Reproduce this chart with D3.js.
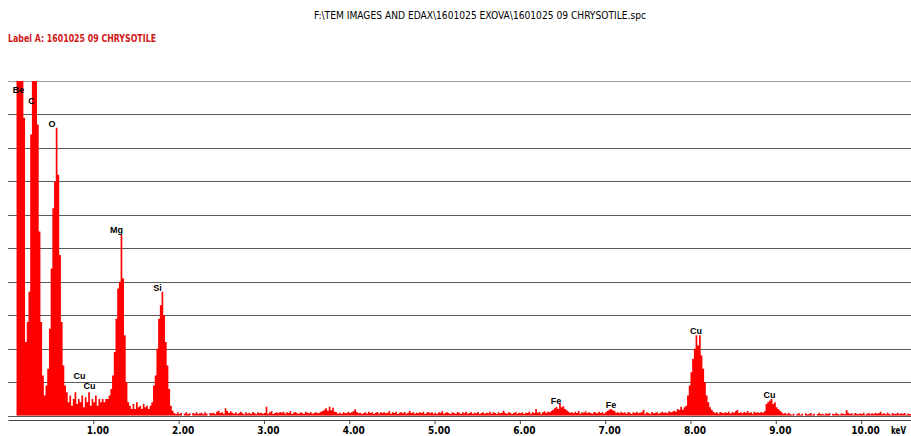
<!DOCTYPE html>
<html>
<head>
<meta charset="utf-8">
<script src="https://cdn.jsdelivr.net/npm/d3@7/dist/d3.min.js"></script>
<style>
  html, body { margin: 0; padding: 0; background: #fff; }
  svg { display: block; }
</style>
</head>
<body>
<div id="chart"></div>
<script>
// spectrum calibration, like the .spc header: channel i sits at startKeV + i * keVPerChannel
var startKeV = 0;
var keVPerChannel = 0.02;

// counts per channel, in % of full scale (0.2 keV per row)
var counts = [
    0, 0, 0, 0, 0, 160, 160, 160, 160, 89,
    22, 28, 37, 84, 160, 160, 160, 87, 55, 28,
    12, 6, 9, 14, 26, 44, 62, 70, 86, 72,
    48, 28, 15, 9, 7, 4, 6, 3, 5, 7,
    3.5, 5, 4, 6, 2.5, 5.5, 4, 7, 3, 5,
    4, 6, 3, 5, 4, 5, 4, 5, 5, 6,
    8, 12, 19, 29, 38, 40, 54, 41, 24, 10,
    4, 3, 2, 3.5, 2, 4, 2.5, 3, 2, 3.5,
    2.5, 3, 2, 3, 4, 9, 12, 20, 29, 33,
    37, 30, 22, 15, 8, 3, 1.5, 0.8, 0.5, 1,
    0.5, 0.8, 0, 0.6, 1, 0.5, 0.7, 0, 0.8, 0.6,
    1, 0.5, 0.7, 0.9, 0.4, 1, 0.6, 0, 0.8, 0.7,
    0.9, 0.5, 1.2, 1.5, 0.8, 1, 0.6, 2.2, 1.4, 0.8,
    1.3, 0.9, 0.6, 1, 0.5, 0.8, 1.2, 0.7, 0.4, 1,
    0.6, 0.9, 0.5, 1.1, 0.8, 0.4, 1, 0.7, 0.9, 0.6,
    0.8, 2.7, 0.6, 1, 1.3, 0.5, 0.8, 1, 0.7, 1.1,
    0.9, 1.2, 0.6, 1, 0.8, 1.3, 0.5, 0.9, 1.1, 0.7,
    0.6, 1, 0.8, 0.5, 1.2, 0.9, 0.7, 1, 0.6, 0.8,
    1, 0.7, 0.9, 1.2, 1.4, 1.8, 2.2, 1.5, 2.7, 1.6,
    2.4, 1.2, 1, 0.6, 0.9, 0.5, 1, 0.8, 0.7, 1.2,
    0.8, 1, 1.3, 1.9, 1.1, 0.7, 0.9, 0.5, 0.8, 1,
    0.6, 1.2, 0.8, 1, 0.5, 0.9, 1.1, 0.6, 1, 0.8,
    1, 0.7, 0.9, 1.3, 0.6, 1, 0.8, 1.2, 0.5, 0.9,
    1, 0.7, 1.1, 0.6, 0.9, 1.4, 0.8, 1, 0.6, 0.9,
    0.7, 1, 0.8, 1.2, 0.5, 0.9, 1.1, 0.7, 1, 0.6,
    0.9, 0.5, 1, 0.8, 1.3, 0.6, 0.9, 1, 0.7, 0.5,
    1, 0.8, 0.6, 1.1, 0.9, 0.5, 1, 0.7, 1.2, 0.6,
    0.8, 1, 0.6, 0.9, 0.7, 1.1, 0.5, 0.8, 1, 0.6,
    0.9, 0.7, 1.2, 0.6, 1, 0.8, 0.5, 1, 0.7, 0.9,
    1.5, 0.8, 0.6, 1, 0.9, 0.5, 0.8, 1.1, 0.6, 0.9,
    0.7, 1, 0.5, 0.9, 0.8, 1.2, 0.6, 1, 0.8, 2,
    0.9, 1.1, 0.6, 1, 1.3, 0.8, 1.2, 1, 1.4, 1.8,
    2.2, 2.6, 2, 3.7, 2.5, 2.8, 2, 1.6, 1.2, 0.9,
    1, 0.7, 1.2, 0.8, 1.4, 0.6, 1, 0.9, 1.3, 0.7,
    1, 0.8, 0.6, 1.1, 0.9, 0.7, 1.2, 0.8, 1, 0.6,
    1.1, 1.5, 1.8, 2, 1.6, 1.4, 0.9, 1, 0.7, 1.2,
    0.8, 1, 0.6, 1.1, 0.9, 0.5, 1, 0.8, 1.2, 0.7,
    0.9, 1, 1.7, 0.6, 1, 0.8, 0.5, 1.1, 0.7, 0.9,
    1, 0.6, 0.9, 1.2, 0.8, 1, 0.7, 1.3, 1, 1.2,
    1.5, 1.2, 2, 1.7, 2.7, 1.8, 2.5, 3, 6, 9,
    13, 17, 20, 24, 21, 24, 18, 14, 10, 6,
    4, 2.5, 1.8, 1.2, 0.8, 1, 0.6, 1.1, 0.9, 0.7,
    1, 0.8, 1.2, 0.6, 1, 0.9, 1.3, 1.7, 0.8, 1,
    0.7, 1.1, 0.9, 1.4, 0.8, 1, 0.6, 1.2, 0.9, 1,
    0.8, 1.1, 0.9, 1.3, 3.5, 4, 4.5, 5, 3.5, 4,
    2.5, 2, 1.5, 1, 0.6, 0.8, 0.4, 0.9, 0.5, 0.3,
    0.6, 0, 0.5, 0.8, 0.3, 0.6, 0, 0.7, 0.4, 0.5,
    0.8, 0.3, 0.6, 0, 0.5, 0.9, 0.4, 0.6, 0.3, 0.7,
    0.5, 0.8, 0, 0.6, 0.4, 0.9, 0.5, 0.3, 0.7, 0.6,
    0.4, 1.7, 0.9, 0.5, 0.7, 0.3, 0.8, 0.6, 0.4, 0.7,
    0.5, 0.9, 0.3, 0.6, 0.8, 0.4, 0.7, 0.5, 0.9, 0.6,
    0.8, 1.2, 0.5, 0.7, 0.4, 0.9, 0.6, 0.3, 0.8, 0.5,
    0.6, 0.9, 0.4, 0.7, 0.5, 0.8, 0.3, 0.6, 0.5, 0.4
];

// element markers: name, energy (keV) and the height the label sits at (%)
var peakNames  = ["Be", "C", "O", "Cu", "Cu", "Mg", "Si", "Fe", "Fe", "Cu", "Cu"];
var peakKeV    = [0.123, 0.275, 0.516, 0.838, 0.955, 1.272, 1.753, 6.424, 7.069, 8.066, 8.927];
var peakLabelY = [96.4, 93.1, 86.3, 11.0, 8.0, 54.6, 37.3, 3.5, 2.3, 24.4, 5.3];

var tickKeV   = [1, 2, 3, 4, 5, 6, 7, 8, 9, 10];
var gridLines = [0, 10, 20, 30, 40, 50, 60, 70, 80, 90, 100];

var titleText = "F:\\TEM IMAGES AND EDAX\\1601025 EXOVA\\1601025 09 CHRYSOTILE.spc";
var labelText = "Label A: 1601025 09 CHRYSOTILE";
var unitText  = "keV";

var width = 911, height = 436;
var narrow = "'Liberation Sans Narrow', 'Arial Narrow', 'DejaVu Sans Condensed', sans-serif";

var svg = d3.select("#chart").append("svg")
    .attr("width", width)
    .attr("height", height);

var x = d3.scaleLinear().domain([0, 10.585]).range([8, 911]);
var y = d3.scaleLinear().domain([0, 100]).range([415.7, 81]);

// header texts
svg.append("text")
    .attr("x", 314).attr("y", 19)
    .attr("textLength", 332).attr("lengthAdjust", "spacingAndGlyphs")
    .style("font-family", narrow).style("font-size", "10px")
    .style("font-weight", "500")
    .attr("fill", "#000")
    .text(titleText);

svg.append("text")
    .attr("x", 8).attr("y", 42)
    .attr("textLength", 148).attr("lengthAdjust", "spacingAndGlyphs")
    .style("font-family", narrow).style("font-size", "10px")
    .style("font-weight", "bold")
    .attr("fill", "#d01818")
    .text(labelText);

// horizontal grid
svg.append("g").selectAll("line")
    .data(gridLines)
    .enter().append("line")
    .attr("x1", x(0)).attr("x2", width)
    .attr("y1", function(d) { return Math.round(y(d)) + 0.5; })
    .attr("y2", function(d) { return Math.round(y(d)) + 0.5; })
    .attr("stroke", function(d) { return d == 100 ? "#a0a0a0" : "#5a5a5a"; })
    .attr("stroke-width", 1);

// spectrum
svg.append("clipPath").attr("id", "plotclip")
    .append("rect")
    .attr("x", x(0)).attr("y", y(100))
    .attr("width", width - x(0)).attr("height", y(0) - y(100));

var spec = counts.map(function(c, i) {
    return {e: startKeV + i * keVPerChannel, c: c};
});
spec.push({e: startKeV + counts.length * keVPerChannel, c: 0});

var area = d3.area()
    .curve(d3.curveStepAfter)
    .x(function(d) { return x(d.e); })
    .y0(y(0))
    .y1(function(d) { return y(d.c); });

svg.append("path")
    .datum(spec)
    .attr("clip-path", "url(#plotclip)")
    .attr("fill", "#ff0000")
    .attr("d", area);

// bottom axis
var xAxis = d3.axisBottom(x)
    .tickValues(tickKeV)
    .tickFormat(d3.format(".2f"))
    .tickSizeInner(4)
    .tickSizeOuter(0);

var axisG = svg.append("g")
    .attr("transform", "translate(0,420)")
    .call(xAxis);

axisG.select(".domain").attr("stroke", "#444");
axisG.selectAll(".tick line").attr("stroke", "#444");
axisG.selectAll(".tick text")
    .attr("dx", 4)
    .attr("y", 7)
    .style("font-family", narrow)
    .style("font-size", "10px")
    .style("font-weight", "bold")
    .attr("fill", "#000");

// unit label kept just inside the right edge
svg.append("text")
    .attr("x", 891).attr("y", 434)
    .attr("textLength", 15).attr("lengthAdjust", "spacingAndGlyphs")
    .style("font-family", narrow).style("font-size", "10px").style("font-weight", "bold")
    .attr("fill", "#000")
    .text(unitText);

// element labels
svg.append("g").selectAll("text")
    .data(peakNames)
    .enter().append("text")
    .attr("x", function(d, i) { return x(peakKeV[i]); })
    .attr("y", function(d, i) { return y(peakLabelY[i]); })
    .attr("text-anchor", "middle")
    .style("font-family", "'Liberation Sans', Arial, sans-serif")
    .style("font-size", "9px")
    .style("font-weight", "bold")
    .attr("fill", "#000")
    .text(function(d) { return d; });
</script>
</body>
</html>
